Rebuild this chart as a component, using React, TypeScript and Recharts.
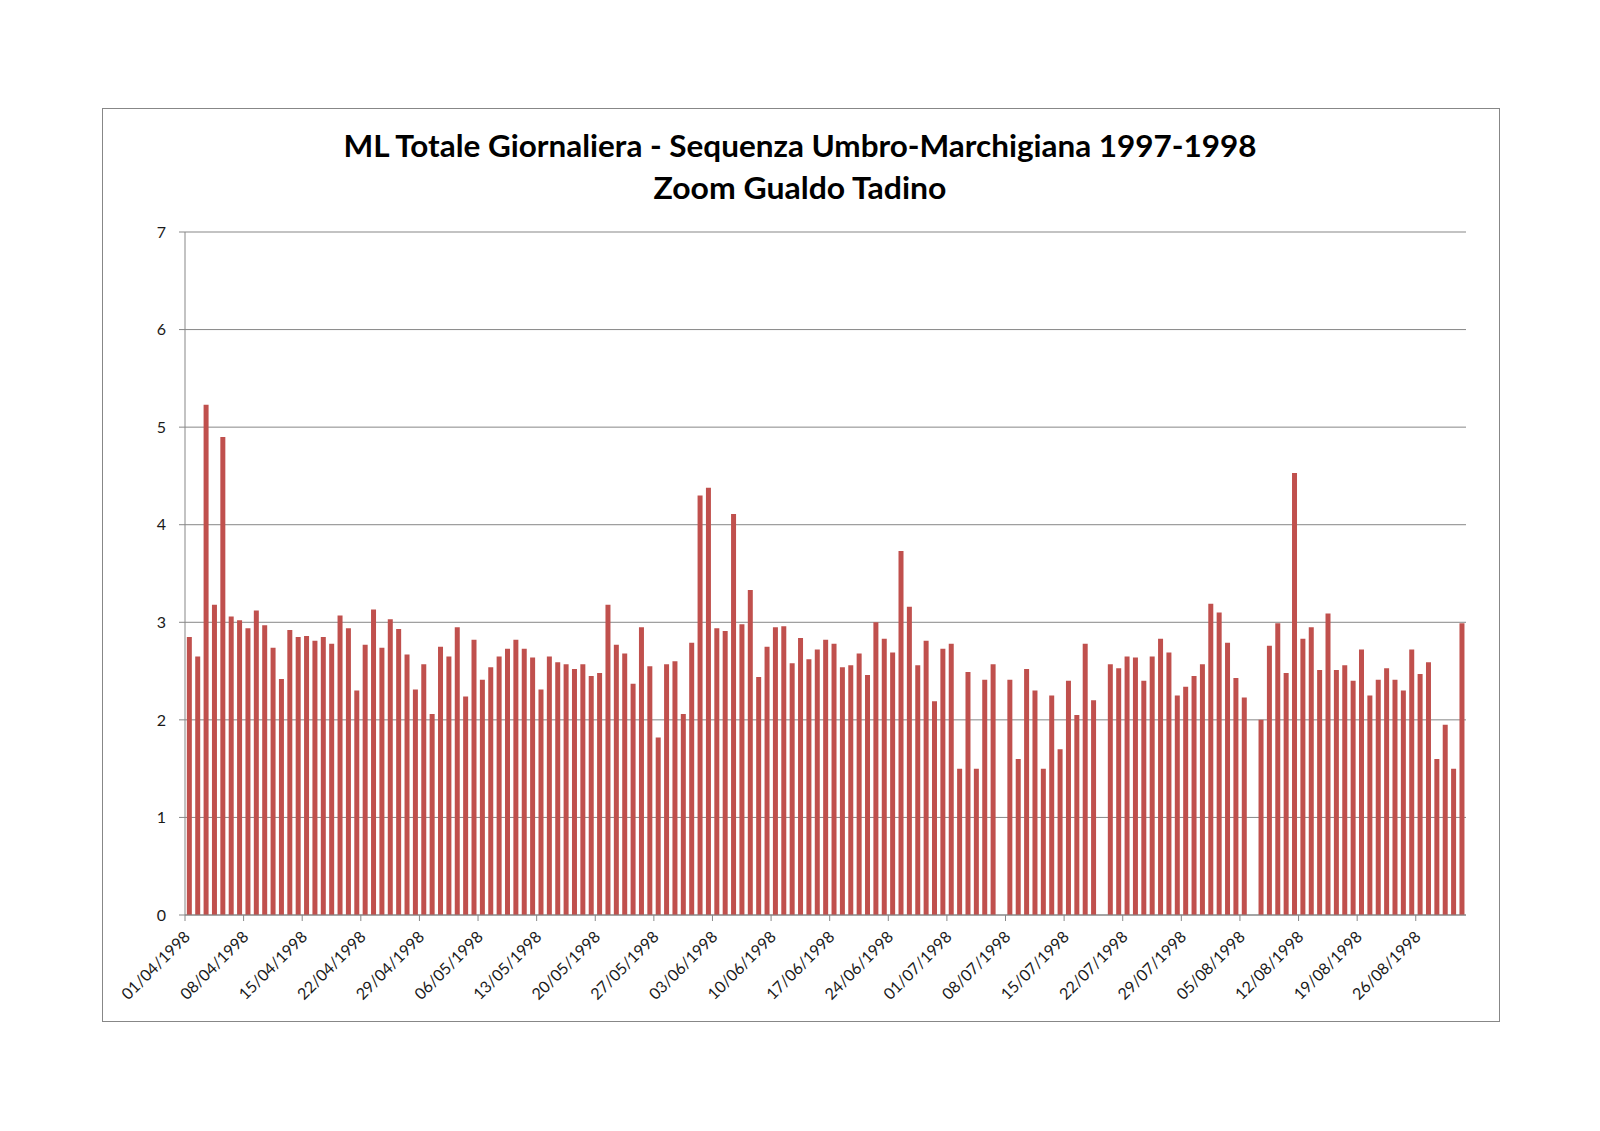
import React from "react";
import { BarChart, Bar, XAxis, YAxis, CartesianGrid } from "recharts";

// valori ML giornalieri, 01/04/1998 -> 31/08/1998 (null = nessun dato)
const aprile = [
  2.85, 2.65, 5.23, 3.18, 4.9, 3.06, 3.02, 2.94, 3.12, 2.97,
  2.74, 2.42, 2.92, 2.85, 2.86, 2.81, 2.85, 2.78, 3.07, 2.94,
  2.3, 2.77, 3.13, 2.74, 3.03, 2.93, 2.67, 2.31, 2.57, 2.06,
];
const maggio = [
  2.75, 2.65, 2.95, 2.24, 2.82, 2.41, 2.54, 2.65, 2.73, 2.82,
  2.73, 2.64, 2.31, 2.65, 2.59, 2.57, 2.52, 2.57, 2.45, 2.48,
  3.18, 2.77, 2.68, 2.37, 2.95, 2.55, 1.82, 2.57, 2.6, 2.06, 2.79,
];
const giugno = [
  4.3, 4.38, 2.94, 2.91, 4.11, 2.98, 3.33, 2.44, 2.75, 2.95,
  2.96, 2.58, 2.84, 2.62, 2.72, 2.82, 2.78, 2.54, 2.56, 2.68,
  2.46, 3.0, 2.83, 2.69, 3.73, 3.16, 2.56, 2.81, 2.19, 2.73,
];
const luglio = [
  2.78, 1.5, 2.49, 1.5, 2.41, 2.57, null, 2.41, 1.6, 2.52,
  2.3, 1.5, 2.25, 1.7, 2.4, 2.05, 2.78, 2.2, null, 2.57,
  2.53, 2.65, 2.64, 2.4, 2.65, 2.83, 2.69, 2.25, 2.34, 2.45, 2.57,
];
const agosto = [
  3.19, 3.1, 2.79, 2.43, 2.23, null, 2.0, 2.76, 2.99, 2.48,
  4.53, 2.83, 2.95, 2.51, 3.09, 2.51, 2.56, 2.4, 2.72, 2.25,
  2.41, 2.53, 2.41, 2.3, 2.72, 2.47, 2.59, 1.6, 1.95, 1.5, 2.99,
];

const mesi = [
  { mm: "04", valori: aprile },
  { mm: "05", valori: maggio },
  { mm: "06", valori: giugno },
  { mm: "07", valori: luglio },
  { mm: "08", valori: agosto },
];

const etichetteX = [
  "01/04/1998", "08/04/1998", "15/04/1998", "22/04/1998", "29/04/1998",
  "06/05/1998", "13/05/1998", "20/05/1998", "27/05/1998", "03/06/1998",
  "10/06/1998", "17/06/1998", "24/06/1998", "01/07/1998", "08/07/1998",
  "15/07/1998", "22/07/1998", "29/07/1998", "05/08/1998", "12/08/1998",
  "19/08/1998", "26/08/1998",
];

const tickY = [0, 1, 2, 3, 4, 5, 6, 7];

const data = mesi.flatMap(({ mm, valori }) =>
  valori.map((v, i) => ({
    data: `${String(i + 1).padStart(2, "0")}/${mm}/1998`,
    ml: v,
  }))
);

const GRIGIO = "#878787";
const PLOT_W = 1466 - 185;
const BAND = PLOT_W / data.length;

const TickData = (props: any) => {
  const { x, y, payload } = props;
  if (!etichetteX.includes(payload.value)) return null;
  const tx = x - BAND / 2;
  const ax = tx + 6;
  const ay = y + 23;
  return (
    <g>
      <line x1={tx} y1={y} x2={tx} y2={y + 6} stroke={GRIGIO} />
      <text
        x={ax}
        y={ay}
        textAnchor="end"
        fontSize={16}
        fontFamily="Lato, sans-serif"
        fill="#1a1a1a"
        transform={`rotate(-45, ${ax}, ${ay})`}
      >
        {payload.value}
      </text>
    </g>
  );
};

export default function App() {
  return (
    <div style={{ position: "absolute", left: 0, top: 0, width: 1600, height: 1131, background: "#fff" }}>
      <div
        style={{
          position: "absolute",
          left: 102,
          top: 108,
          width: 1396,
          height: 912,
          border: `1.5px solid ${GRIGIO}`,
        }}
      />
      <div style={{ position: "absolute", left: 0, top: 0 }}>
        <BarChart
          width={1600}
          height={1131}
          data={data}
          margin={{ top: 232, right: 134, bottom: 156, left: 125 }}
          barCategoryGap="22%"
        >
          <CartesianGrid vertical={false} stroke={GRIGIO} />
          <XAxis
            dataKey="data"
            interval={0}
            height={60}
            tickSize={0}
            tickMargin={0}
            tickLine={false}
            axisLine={{ stroke: GRIGIO }}
            tick={<TickData />}
          />
          <YAxis
            domain={[0, 7]}
            ticks={tickY}
            width={60}
            tickSize={6}
            tickMargin={13}
            axisLine={{ stroke: GRIGIO }}
            tickLine={{ stroke: GRIGIO }}
            tick={{ fontSize: 16, fontFamily: "Lato, sans-serif", fill: "#1a1a1a" }}
          />
          <Bar dataKey="ml" fill="#C0504D" isAnimationActive={false} />
        </BarChart>
      </div>
      <svg
        width={1600}
        height={1131}
        style={{ position: "absolute", left: 0, top: 0, pointerEvents: "none" }}
      >
        <text
          x={800}
          y={157}
          textAnchor="middle"
          fontSize={31}
          fontWeight="bold"
          fontFamily="Lato, sans-serif"
          textLength={913}
          lengthAdjust="spacingAndGlyphs"
          fill="#000"
        >
          ML Totale Giornaliera - Sequenza Umbro-Marchigiana 1997-1998
        </text>
        <text
          x={800}
          y={199}
          textAnchor="middle"
          fontSize={31}
          fontWeight="bold"
          fontFamily="Lato, sans-serif"
          textLength={293}
          lengthAdjust="spacingAndGlyphs"
          fill="#000"
        >
          Zoom Gualdo Tadino
        </text>
      </svg>
    </div>
  );
}
